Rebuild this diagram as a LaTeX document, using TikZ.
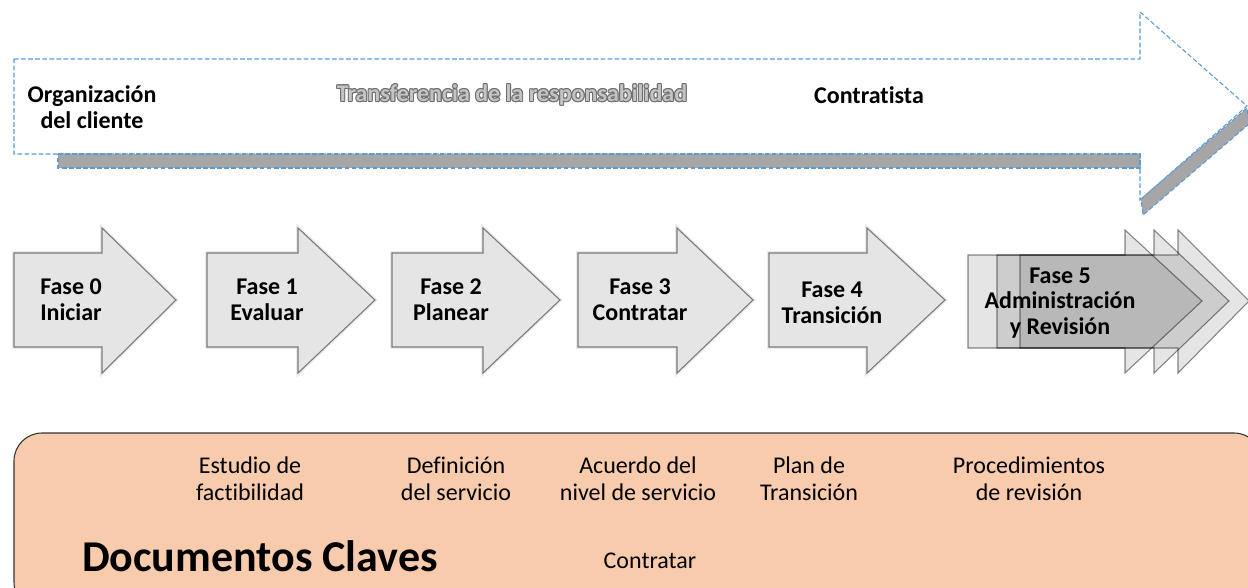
\documentclass[tikz,border=0pt]{standalone}
\usepackage{fontspec}
\setmainfont{Carlito}[Ligatures=NoCommon]
\usetikzlibrary{calc}
\definecolor{dashblue}{HTML}{5B9BD5}
\definecolor{bargray}{HTML}{A6A6A6}
\definecolor{peach}{HTML}{F8CBAD}
\definecolor{phasefill}{HTML}{E5E5E5}
\definecolor{phaseline}{HTML}{7A7A7A}
\definecolor{olline}{HTML}{6E6E6E}
\definecolor{olfill}{HTML}{C4C4C4}
\definecolor{boxline}{HTML}{333333}
\newcommand{\oltcopy}[3]{\rlap{\kern#1\raisebox{#2}{#3}}}
\newcommand{\outlinedtext}[1]{\leavevmode{\color{olline}%
 \oltcopy{0.8pt}{0pt}{#1}\oltcopy{-0.8pt}{0pt}{#1}\oltcopy{0pt}{0.8pt}{#1}\oltcopy{0pt}{-0.8pt}{#1}%
 \oltcopy{0.57pt}{0.57pt}{#1}\oltcopy{-0.57pt}{0.57pt}{#1}\oltcopy{0.57pt}{-0.57pt}{#1}\oltcopy{-0.57pt}{-0.57pt}{#1}}%
 \textcolor{olfill}{#1}}
\tikzset{
  bigdash/.style={draw=dashblue, line width=0.8pt, dash pattern=on 3.5pt off 1.8pt},
  phasearrow/.style={fill=phasefill, draw=phaseline, line width=0.8pt, line join=miter},
  phaseglow/.style={draw=black, draw opacity=0.08, line width=3pt, line join=miter},
  stackarrow/.style={fill=black, fill opacity=0.1, draw=black, draw opacity=0.45, line width=0.8pt},
  boldlbl/.style={font=\fontsize{18}{19.5}\selectfont\bfseries, align=center, inner sep=0pt},
  doclbl/.style={font=\fontsize{18}{20}\selectfont, align=center, inner sep=0pt},
}
\newcommand{\phaseshape}[3]{%
 \draw[phaseglow] (#1,253) -- (#2,253) -- (#2,228) -- (#3,300) -- (#2,373) -- (#2,347) -- (#1,347) -- cycle;
 \draw[phasearrow] (#1,253) -- (#2,253) -- (#2,228) -- (#3,300) -- (#2,373) -- (#2,347) -- (#1,347) -- cycle;}
\newcommand{\stackshape}[3]{\draw[stackarrow] (#1,255) -- (#2,255) -- (#2,230) -- (#3,301) -- (#2,373) -- (#2,348) -- (#1,348) -- cycle;}
\begin{document}
\begin{tikzpicture}[x=0.75pt, y=-0.75pt]
\useasboundingbox (0,0) rectangle (1248,588);
\clip (0,0) rectangle (1248,588);
\fill[white] (0,0) rectangle (1248,588);

% big transfer arrow
\draw[bigdash, fill=white] (14,59) -- (1140,59) -- (1140,12) -- (1247,106) -- (1140,200) -- (1140,154) -- (14,154) -- cycle;
\draw[bigdash, fill=bargray] (58,154) -- (1140,154) -- (1140,168) -- (58,168) -- cycle;
\draw[bigdash, fill=bargray] (1141,199) -- (1247,108) -- (1249,124) -- (1143,215) -- cycle;

\node[boldlbl] (org) at (92,107) {Organización\\del cliente};
\node[font=\fontsize{18}{19.5}\selectfont\bfseries, inner sep=0pt] (transf) at (512,95) {\outlinedtext{Transferencia de la responsabilidad}};
\node[boldlbl] (contr) at (869,95) {Contratista};

% phase arrows
\phaseshape{14}{102}{176}
\phaseshape{207}{298}{375}
\phaseshape{392}{483}{560}
\phaseshape{578}{677}{753}
\phaseshape{769}{867}{945}

\node[boldlbl] (f0) at (71,300) {Fase 0\\Iniciar};
\node[boldlbl] (f1) at (267,300) {Fase 1\\Evaluar};
\node[boldlbl] (f2) at (451,300) {Fase 2\\Planear};
\node[boldlbl] (f3) at (640,300) {Fase 3\\Contratar};
\node[boldlbl] (f4) at (832,303) {Fase 4\\Transición};

% phase 5 stacked arrows
\stackshape{968}{1125}{1202}
\stackshape{997}{1154}{1229}
\stackshape{1020}{1178}{1249}
\node[font=\fontsize{18}{19.2}\selectfont\bfseries, align=center, inner sep=0pt] (f5) at (1060,303) {Fase 5\\Administración\\y Revisión};

% documents box
\draw[fill=peach, draw=boxline, line width=0.8pt, rounded corners=21pt] (14,433) rectangle (1262,610);

\node[doclbl] (d1) at (250,479) {Estudio de\\factibilidad};
\node[doclbl] (d2) at (456,479) {Definición\\del servicio};
\node[doclbl] (d3) at (638,479) {Acuerdo del\\nivel de servicio};
\node[doclbl] (d4) at (809,479) {Plan de\\Transición};
\node[doclbl] (d5) at (1029,479) {Procedimientos\\de revisión};
\node[font=\fontsize{33}{36}\selectfont\bfseries, inner sep=0pt] (dk) at (260,556) {Documentos Claves};
\node[doclbl] (d6) at (650,561) {Contratar};
\end{tikzpicture}
\end{document}
